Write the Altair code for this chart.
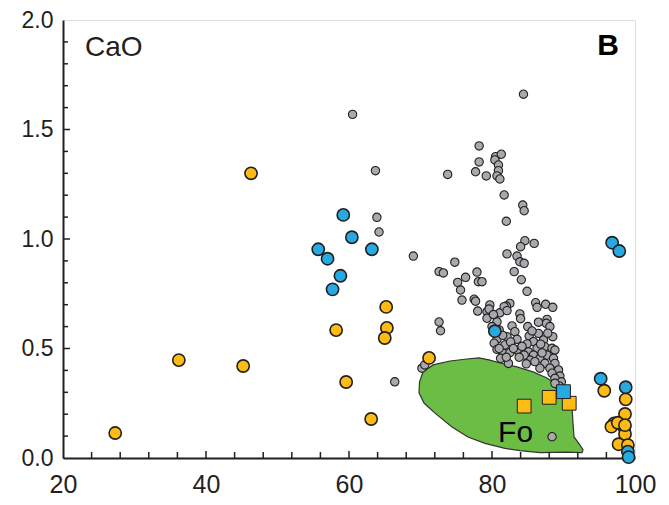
import altair as alt
import pandas as pd

# ---------------- data ----------------
gray_x = [84.4, 60.5, 78.2, 63.7, 73.8, 78.2, 77.7, 79.2, 80.5, 81.3, 80.4, 80.9, 80.9, 80.7, 81.1,
          81.7, 84.3, 84.5, 82.0, 63.9, 64.2, 84.6, 85.9, 84.0, 69.0, 74.8, 82.1, 83.5, 83.9, 84.5,
          72.6, 73.2, 77.9, 83.1, 76.3, 75.2, 78.1, 78.6, 84.1, 75.6, 84.9, 75.8, 77.5, 77.7, 79.7,
          82.5, 82.0, 86.1, 87.5, 88.5, 86.3, 78.0, 72.6, 72.8, 66.4, 70.2, 70.6, 88.4,
          79.3, 81.1, 81.7, 82.1, 79.3, 80.7, 83.9, 84.0, 82.8, 83.2, 83.5, 82.1, 80.7, 80.3,
          81.8, 80.7, 81.6, 82.5, 83.5, 81.2, 82.3, 87.7, 87.6, 88.1, 88.5, 86.5, 85.2, 85.8,
          84.9, 85.1, 86.3, 87.2, 87.4, 88.4, 88.8, 85.8, 86.7, 87.7, 88.6, 85.3, 87.4, 88.8,
          88.1, 86.7, 89.3, 88.4, 89.5, 88.8, 89.7, 89.4, 88.8,
          80.0, 81.0, 81.5, 82.6, 83.0, 84.2, 84.5, 85.0, 85.6, 86.8, 87.0, 86.0, 84.8, 83.8,
          82.0, 81.0, 86.5, 87.8, 79.6, 80.2]
gray_y = [1.661, 1.569, 1.425, 1.312, 1.295, 1.352, 1.307, 1.288, 1.376, 1.387, 1.361, 1.338, 1.312, 1.288, 1.274,
          1.201, 1.155, 1.129, 1.081, 1.099, 1.032, 0.992, 0.980, 0.965, 0.922, 0.894, 0.932, 0.922, 0.896, 0.889,
          0.851, 0.845, 0.849, 0.851, 0.825, 0.802, 0.805, 0.805, 0.814, 0.767, 0.761, 0.721, 0.725, 0.716, 0.699,
          0.706, 0.694, 0.709, 0.702, 0.688, 0.688, 0.671, 0.621, 0.581, 0.348, 0.410, 0.425, 0.097,
          0.668, 0.663, 0.691, 0.673, 0.638, 0.622, 0.658, 0.636, 0.603, 0.577, 0.542, 0.554, 0.542, 0.524,
          0.516, 0.496, 0.478, 0.481, 0.493, 0.455, 0.432, 0.633, 0.615, 0.600, 0.554, 0.569, 0.557, 0.531,
          0.521, 0.485, 0.501, 0.539, 0.508, 0.501, 0.493, 0.470, 0.455, 0.470, 0.455, 0.447, 0.432, 0.432,
          0.410, 0.410, 0.402, 0.387, 0.374, 0.364, 0.348, 0.329, 0.341,
          0.600, 0.585, 0.560, 0.530, 0.500, 0.510, 0.470, 0.600, 0.580, 0.520, 0.480, 0.440, 0.430, 0.460,
          0.460, 0.500, 0.620, 0.570, 0.680, 0.655]

orange_x = [27.3, 36.2, 45.2, 46.3, 58.2, 59.6, 63.1, 65.2, 65.3, 65.0, 71.2,
            95.7, 98.7, 98.6, 97.1, 96.7, 98.5, 98.6, 97.7, 97.6, 99.0, 98.6]
orange_y = [0.114, 0.447, 0.420, 1.300, 0.584, 0.347, 0.178, 0.690, 0.594, 0.548, 0.457,
            0.307, 0.268, 0.201, 0.158, 0.143, 0.140, 0.110, 0.063, 0.161, 0.059, 0.150]

blue_x = [59.2, 60.4, 55.7, 57.0, 63.2, 58.8, 57.7, 80.4, 96.8, 97.8, 95.2, 98.7, 99.0, 99.1]
blue_y = [1.110, 1.008, 0.953, 0.910, 0.953, 0.832, 0.770, 0.579, 0.983, 0.945, 0.362, 0.323, 0.029, 0.004]

osq_x = [84.5, 88.0, 90.8]
osq_y = [0.237, 0.277, 0.250]
bsq_x = [90.0]
bsq_y = [0.303]

# Fo field outline
fo_x = [70.35, 71.75, 74.13, 76.5, 78.18, 79.72, 81.12, 83.5, 85.73, 87.69, 89.09, 90.49, 91.19,
        91.33, 91.47, 92.31, 92.73, 92.59, 90.49, 86.71, 83.92, 81.82, 79.02, 76.64, 74.41, 72.03,
        70.49, 69.79, 69.86, 70.35]
fo_y = [0.393, 0.425, 0.443, 0.452, 0.457, 0.447, 0.434, 0.416, 0.393, 0.365, 0.333, 0.297, 0.233,
        0.160, 0.096, 0.059, 0.037, 0.025, 0.027, 0.025, 0.034, 0.044, 0.067, 0.096, 0.142, 0.205,
        0.251, 0.297, 0.347, 0.393]

x_major = [40, 60, 80]
x_minor = [24, 28, 32, 36, 44, 48, 52, 56, 64, 68, 72, 76, 84, 88, 92, 96]
y_major = [0.5, 1.0, 1.5]
y_minor = [0.1, 0.2, 0.3, 0.4, 0.6, 0.7, 0.8, 0.9, 1.1, 1.2, 1.3, 1.4, 1.6, 1.7, 1.8, 1.9]

x_labels = [20, 40, 60, 80, 100]
y_labels = [0.0, 0.5, 1.0, 1.5, 2.0]

W, H = 572, 438
FONT = "Liberation Sans"
INK = "#231f20"

xs = alt.Scale(domain=[20, 100], nice=False, zero=False)
ys = alt.Scale(domain=[0, 2], nice=False, zero=False)

x_axis = alt.Axis(values=x_labels, ticks=False, grid=False, labelFontSize=25, labelFont=FONT,
                  labelColor=INK, labelPadding=14, domainColor=INK, domainWidth=2, title=None,
                  labelFlush=False)
y_axis = alt.Axis(values=y_labels, format=".1f", ticks=False, grid=False, labelFontSize=23,
                  labelFont=FONT, labelColor=INK, labelPadding=10, domainColor=INK, domainWidth=2,
                  title=None, labelFlush=False)

X = lambda f: alt.X(f, scale=xs, axis=x_axis)
Y = lambda f: alt.Y(f, scale=ys, axis=y_axis)

fo_df = pd.DataFrame({"x": fo_x, "y": fo_y, "i": list(range(len(fo_x)))})
field = alt.Chart(fo_df).mark_line(fill="#6cbd45", stroke="#333333", strokeWidth=1.2).encode(
    x=X("x:Q"), y=Y("y:Q"), order="i:Q",
)

def pts(xv, yv, color, size, shape="circle", sw=1.6):
    df = pd.DataFrame({"x": xv, "y": yv})
    return alt.Chart(df).mark_point(shape=shape, filled=True, fill=color, stroke=INK,
                                    strokeWidth=sw, size=size, opacity=1).encode(
        x=X("x:Q"), y=Y("y:Q"),
    )

gray = pts(gray_x, gray_y, "#a7a9ac", 70, sw=1.1)
orange = pts(orange_x, orange_y, "#fdbb14", 150)
blue = pts(blue_x, blue_y, "#27aae1", 150)
osq = pts(osq_x, osq_y, "#fdbb14", 190, shape="square", sw=1.0)
bsq = pts(bsq_x, bsq_y, "#27aae1", 190, shape="square", sw=1.0)

def xticks(vals, length):
    return alt.Chart(pd.DataFrame({"x": vals})).mark_rule(color=INK, strokeWidth=1.5).encode(
        x=X("x:Q"), y=alt.value(H), y2=alt.value(H - length))

def yticks(vals, length):
    return alt.Chart(pd.DataFrame({"y": vals})).mark_rule(color=INK, strokeWidth=1.5).encode(
        y=Y("y:Q"), x=alt.value(0), x2=alt.value(length))

ticks = xticks(x_major, 7) + xticks(x_minor, 6) + yticks(y_major, 7) + yticks(y_minor, 5)

label_df = pd.DataFrame({"t": ["CaO"]})
cao = alt.Chart(label_df).mark_text(font=FONT, fontSize=28, color=INK, align="left",
                                    baseline="middle").encode(
    x=alt.value(22), y=alt.value(28), text="t:N")
b_df = pd.DataFrame({"t": ["B"]})
blabel = alt.Chart(b_df).mark_text(font=FONT, fontSize=30, fontWeight="bold", color="#000000",
                                   align="center", baseline="middle").encode(
    x=alt.value(545), y=alt.value(26), text="t:N")
fo_text_df = pd.DataFrame({"t": ["Fo"], "x": [83.3], "y": [0.112]})
fo_text = alt.Chart(fo_text_df).mark_text(font=FONT, fontSize=30, color="#000000", align="center",
                                          baseline="middle").encode(
    x=X("x:Q"), y=Y("y:Q"), text="t:N")

chart = alt.layer(field, gray, orange, blue, osq, bsq, fo_text, ticks, cao, blabel).properties(
    width=W, height=H,
    autosize=alt.AutoSizeParams(type="none"),
    padding={"left": 55, "top": 12, "right": 26, "bottom": 39},
).configure_view(stroke="#555555", strokeWidth=1).configure(background="white")

chart.save("out.html", embed_options={"renderer": "svg", "actions": False})
